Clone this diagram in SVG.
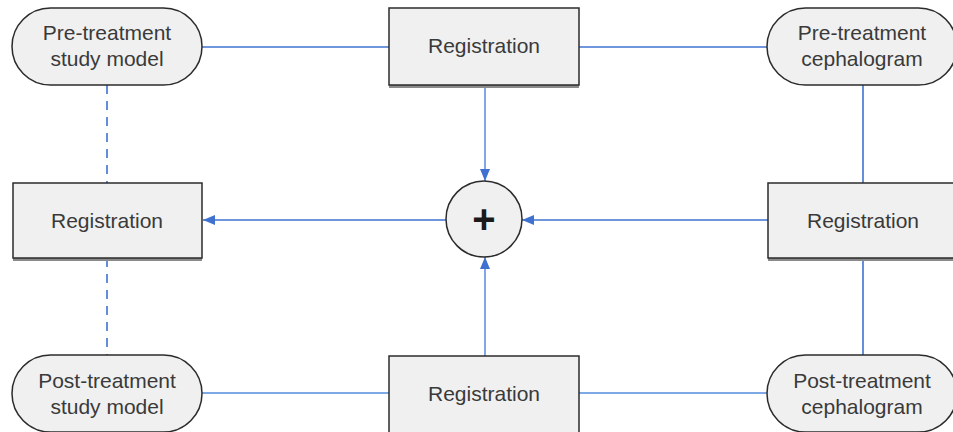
<svg xmlns="http://www.w3.org/2000/svg" width="953" height="432" viewBox="0 0 953 432">
  <style>
    .shape { fill: #f0f0f0; stroke: #2b2b2b; stroke-width: 1.5; }
    .shadow { fill: #8a8a8a; }
    .label { font-family: "Liberation Sans", Arial, sans-serif; font-size: 21px; fill: #3a3a3a; text-anchor: middle; }
    .plus { font-family: "Liberation Sans", Arial, sans-serif; font-size: 40px; font-weight: bold; fill: #1a1a1a; text-anchor: middle; }
    .link { fill: none; stroke: #3f72d0; stroke-width: 1.6; }
    .light { stroke: #7ea9e6; stroke-width: 2; }
    .dash { stroke-dasharray: 9 7; }
  </style>
  <defs>
    <marker id="arrow" viewBox="0 0 12 10" refX="12" refY="5" markerWidth="12" markerHeight="10" markerUnits="userSpaceOnUse" orient="auto">
      <path d="M0,0 L12,5 L0,10 Z" fill="#3f72d0"/>
    </marker>
  </defs>
  <rect width="953" height="432" fill="#ffffff"/>

  <g id="connectors">
    <line class="link" x1="202" y1="47" x2="389" y2="47"/>
    <line class="link" x1="579" y1="47" x2="767" y2="47"/>
    <line class="link dash" x1="107" y1="85" x2="107" y2="183"/>
    <line class="link dash" x1="107" y1="258" x2="107" y2="355"/>
    <line class="link" x1="863" y1="85" x2="863" y2="183"/>
    <line class="link" x1="863" y1="258" x2="863" y2="355"/>
    <line class="link light" x1="485" y1="85" x2="485" y2="181" marker-end="url(#arrow)"/>
    <line class="link light" x1="485" y1="356" x2="485" y2="257" marker-end="url(#arrow)"/>
    <line class="link" x1="768" y1="220" x2="522" y2="220" marker-end="url(#arrow)"/>
    <line class="link" x1="446" y1="220" x2="203" y2="220" marker-end="url(#arrow)"/>
    <line class="link light" x1="202" y1="393" x2="389" y2="393"/>
    <line class="link light" x1="579" y1="393" x2="767" y2="393"/>
  </g>

  <g id="pre-study-model">
    <rect class="shape" x="12" y="8" width="190" height="77" rx="38.5" ry="38.5"/>
    <text class="label" x="107" y="40">Pre-treatment</text>
    <text class="label" x="107" y="66">study model</text>
  </g>

  <g id="registration-top">
    <rect class="shadow" x="389" y="11" width="190" height="77"/>
    <rect class="shape" x="389" y="8" width="190" height="77"/>
    <text class="label" x="484" y="53">Registration</text>
  </g>

  <g id="pre-cephalogram">
    <rect class="shape" x="767" y="8" width="190" height="77" rx="38.5" ry="38.5"/>
    <text class="label" x="862" y="40">Pre-treatment</text>
    <text class="label" x="862" y="66">cephalogram</text>
  </g>

  <g id="registration-left">
    <rect class="shadow" x="13" y="186" width="189" height="75"/>
    <rect class="shape" x="13" y="183" width="189" height="75"/>
    <text class="label" x="107" y="228">Registration</text>
  </g>

  <g id="combine">
    <circle class="shape" cx="484" cy="219" r="38"/>
    <text class="plus" x="484" y="233">+</text>
  </g>

  <g id="registration-right">
    <rect class="shadow" x="768" y="186" width="190" height="75"/>
    <rect class="shape" x="768" y="183" width="190" height="75"/>
    <text class="label" x="863" y="228">Registration</text>
  </g>

  <g id="post-study-model">
    <rect class="shape" x="12" y="355" width="190" height="77" rx="38.5" ry="38.5"/>
    <text class="label" x="107" y="388">Post-treatment</text>
    <text class="label" x="107" y="414">study model</text>
  </g>

  <g id="registration-bottom">
    <rect class="shadow" x="389" y="359" width="190" height="77"/>
    <rect class="shape" x="389" y="356" width="190" height="77"/>
    <text class="label" x="484" y="401">Registration</text>
  </g>

  <g id="post-cephalogram">
    <rect class="shape" x="767" y="355" width="190" height="77" rx="38.5" ry="38.5"/>
    <text class="label" x="862" y="388">Post-treatment</text>
    <text class="label" x="862" y="414">cephalogram</text>
  </g>
</svg>
